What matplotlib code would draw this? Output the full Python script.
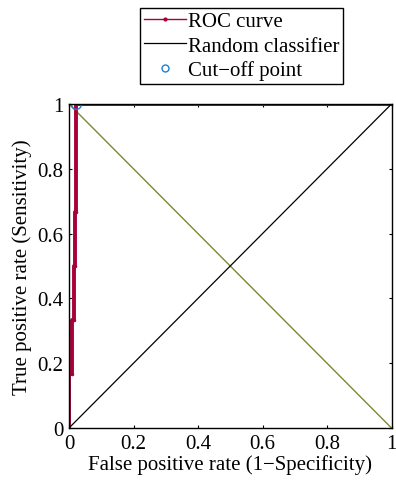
import matplotlib
matplotlib.use("Agg")
import matplotlib.pyplot as plt
from matplotlib.lines import Line2D

plt.rcParams['font.family'] = ['Liberation Serif', 'DejaVu Serif']
plt.rcParams['mathtext.fontset'] = 'stix'

fpr = [0, 0, 0.008, 0.008, 0.014, 0.014, 0.018, 0.018, 0.022, 0.022, 1.0]
tpr = [0, 0.167, 0.167, 0.333, 0.333, 0.5, 0.5, 0.667, 0.667, 1.0, 1.0]
cut_fpr = [0.022]
cut_tpr = [1.0]
rand_x = [0, 1]
rand_y = [0, 1]
anti_x = [0, 1]
anti_y = [1, 0]
ticks = [0, 0.2, 0.4, 0.6, 0.8, 1]
tick_labels = ['0', '0.2', '0.4', '0.6', '0.8', '1']

roc_color = '#a8003a'
cut_color = '#1f7fd0'

fig = plt.figure(figsize=(3.96, 4.81), dpi=100)
ax = fig.add_axes([69/396, 1 - 429/481, (391.5-69)/396, (429-105)/481])

ax.plot(anti_x, anti_y, color='#7a8a30', lw=1.0)
ax.plot(fpr, tpr, color=roc_color, lw=2.8, marker='.', markersize=3)
ax.plot(rand_x, rand_y, color='black', lw=0.9)
ax.plot(cut_fpr, cut_tpr, linestyle='none', marker='o', markersize=7,
        markerfacecolor='none', markeredgecolor=cut_color, markeredgewidth=1.0)

h1 = Line2D([], [], color=roc_color, lw=1.0, marker='.', markersize=4, label='ROC curve')
h2 = Line2D([], [], color='black', lw=0.9, label='Random classifier')
h3 = Line2D([], [], linestyle='none', marker='o', markersize=5, markerfacecolor='none',
            markeredgecolor=cut_color, markeredgewidth=1.0, label='Cut\u2212off point')

ax.set_xlim(0, 1)
ax.set_ylim(0, 1)
ax.set_xticks(ticks)
ax.set_xticklabels(tick_labels)
ax.set_yticks(ticks)
ax.set_yticklabels(tick_labels)
ax.tick_params(direction='in', length=2.5, width=0.8, labelsize=15, top=True, right=True, pad=4)
for s in ax.spines.values():
    s.set_linewidth(1.0)
ax.set_xlabel('False positive rate (1\u2212Specificity)', fontsize=15, labelpad=1)
ax.set_ylabel('True positive rate (Sensitivity)', fontsize=15, labelpad=4)

leg = fig.legend(handles=[h1, h2, h3], loc='center',
                 bbox_to_anchor=(241.5/396, 1 - 47/481), fontsize=15, frameon=True,
                 fancybox=False, edgecolor='black', framealpha=1, handlelength=2.0,
                 borderpad=0.2, labelspacing=0.22, handletextpad=0.1, borderaxespad=0)
leg.get_frame().set_linewidth(1.0)

fig.savefig('out.png', dpi=100)
